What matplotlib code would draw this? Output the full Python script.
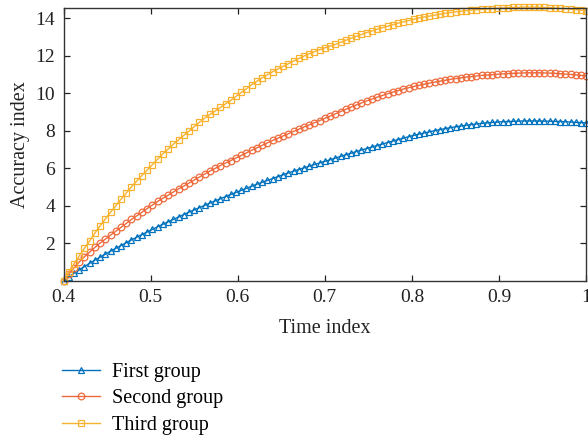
import numpy as np
import matplotlib
matplotlib.use("Agg")
import matplotlib.pyplot as plt

plt.rcParams['font.family'] = ['Liberation Serif', 'DejaVu Serif']

# Time index grid (101 samples between 0.4 and 1.0)
time_index = np.linspace(0.4, 1.0, 101)

first_group = [
    0.00, 0.21, 0.40, 0.58, 0.76, 0.93, 1.10, 1.26, 1.42, 1.58,
    1.73, 1.88, 2.03, 2.18, 2.32, 2.46, 2.60, 2.74, 2.88, 3.01,
    3.14, 3.27, 3.40, 3.53, 3.66, 3.78, 3.90, 4.02, 4.14, 4.26,
    4.37, 4.49, 4.60, 4.71, 4.82, 4.93, 5.04, 5.15, 5.25, 5.35,
    5.45, 5.55, 5.65, 5.75, 5.84, 5.93, 6.02, 6.11, 6.20, 6.28,
    6.37, 6.45, 6.54, 6.63, 6.72, 6.80, 6.89, 6.97, 7.05, 7.13,
    7.21, 7.29, 7.37, 7.45, 7.53, 7.60, 7.68, 7.75, 7.82, 7.88,
    7.94, 8.00, 8.06, 8.11, 8.16, 8.21, 8.25, 8.29, 8.33, 8.36,
    8.39, 8.42, 8.44, 8.46, 8.48, 8.49, 8.50, 8.51, 8.52, 8.52,
    8.52, 8.52, 8.51, 8.51, 8.50, 8.49, 8.48, 8.46, 8.45, 8.43,
    8.42,
]

second_group = [
    0.00, 0.35, 0.68, 1.00, 1.28, 1.53, 1.78, 2.01, 2.22, 2.43,
    2.64, 2.85, 3.06, 3.27, 3.46, 3.65, 3.85, 4.04, 4.23, 4.40,
    4.56, 4.73, 4.90, 5.05, 5.21, 5.37, 5.53, 5.69, 5.85, 5.99,
    6.14, 6.28, 6.41, 6.55, 6.68, 6.82, 6.96, 7.09, 7.22, 7.35,
    7.48, 7.60, 7.72, 7.84, 7.96, 8.08, 8.20, 8.31, 8.43, 8.54,
    8.66, 8.78, 8.90, 9.02, 9.14, 9.26, 9.37, 9.48, 9.59, 9.69,
    9.79, 9.88, 9.97, 10.06, 10.14, 10.22, 10.29, 10.36, 10.42, 10.48,
    10.54, 10.59, 10.64, 10.69, 10.74, 10.78, 10.82, 10.86, 10.89, 10.92,
    10.95, 10.97, 10.99, 11.01, 11.03, 11.05, 11.06, 11.07, 11.08, 11.09,
    11.09, 11.09, 11.08, 11.07, 11.06, 11.04, 11.02, 11.00, 10.98, 10.95,
    10.92,
]

third_group = [
    0.00, 0.46, 0.90, 1.32, 1.73, 2.13, 2.54, 2.93, 3.30, 3.65,
    4.00, 4.35, 4.68, 5.01, 5.31, 5.61, 5.90, 6.19, 6.48, 6.77,
    7.02, 7.28, 7.51, 7.75, 7.98, 8.21, 8.45, 8.67, 8.87, 9.05,
    9.24, 9.43, 9.62, 9.83, 10.04, 10.24, 10.45, 10.64, 10.82, 10.98,
    11.14, 11.29, 11.43, 11.57, 11.71, 11.85, 11.98, 12.10, 12.21, 12.32,
    12.42, 12.51, 12.60, 12.71, 12.82, 12.93, 13.03, 13.13, 13.23, 13.32,
    13.41, 13.49, 13.57, 13.65, 13.73, 13.80, 13.87, 13.94, 14.01, 14.06,
    14.11, 14.16, 14.21, 14.26, 14.30, 14.34, 14.37, 14.40, 14.43, 14.45,
    14.47, 14.49, 14.51, 14.53, 14.54, 14.56, 14.57, 14.58, 14.59, 14.59,
    14.59, 14.58, 14.57, 14.56, 14.54, 14.52, 14.50, 14.48, 14.46, 14.43,
    14.40,
]

labels = ['First group', 'Second group', 'Third group']
colors = ['#0072BD', '#EE6A3C', '#F8B230']
markers = ['^', 'o', 's']
x_ticks = [0.4, 0.5, 0.6, 0.7, 0.8, 0.9, 1.0]
x_tick_labels = ['0.4', '0.5', '0.6', '0.7', '0.8', '0.9', '1']
y_ticks = [2, 4, 6, 8, 10, 12, 14]

fig = plt.figure(figsize=(5.88, 4.36), dpi=100)
ax = fig.add_axes([0.108, 0.356, 0.889, 0.626])

handles = []
for series, lab, c, m in zip([first_group, second_group, third_group], labels, colors, markers):
    h, = ax.plot(time_index, series, color=c, lw=1.0, marker=m, markersize=4.8,
                 markerfacecolor='none', markeredgecolor=c, markeredgewidth=0.9,
                 label=lab, clip_on=False)
    handles.append(h)

ax.set_xlim(0.4, 1.0)
ax.set_ylim(0, 14.55)
ax.set_xticks(x_ticks)
ax.set_xticklabels(x_tick_labels)
ax.set_yticks(y_ticks)
ax.tick_params(direction='in', length=4, width=0.9, top=True, right=True,
               labelsize=14, colors='#222222', pad=6)
for s in ax.spines.values():
    s.set_linewidth(1.0)
    s.set_color('#333333')

ax.set_xlabel('Time index', fontsize=14.5, color='#222222', labelpad=9)
ax.set_ylabel('Accuracy index', fontsize=14.5, color='#222222', labelpad=4)

fig.legend(handles=handles, labels=labels, loc='upper left',
           bbox_to_anchor=(62 / 588, 1 - 362.5 / 436), frameon=False,
           fontsize=14.5, numpoints=1, handlelength=1.9, handletextpad=0.6,
           labelspacing=0.38, borderpad=0, borderaxespad=0)

fig.savefig('out.png', dpi=100)
